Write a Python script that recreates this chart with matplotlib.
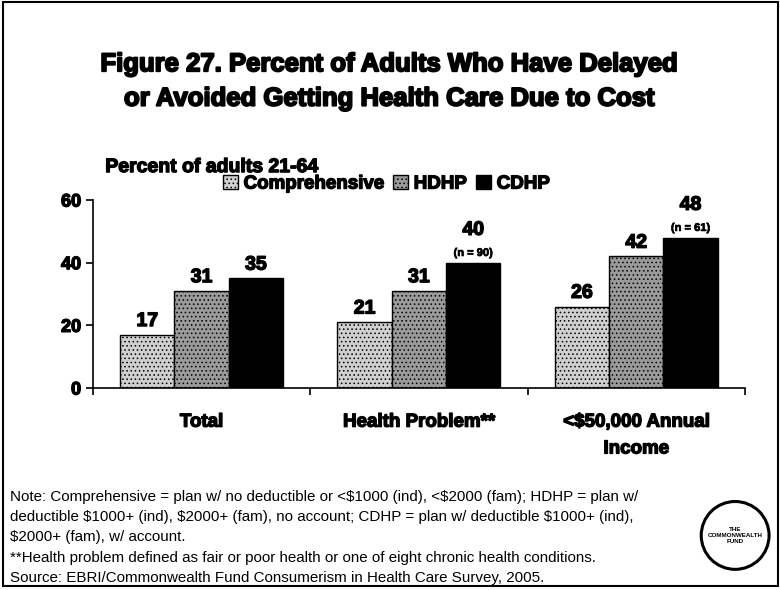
import numpy as np
import matplotlib.pyplot as plt
import matplotlib.patheffects as pe
from matplotlib.patches import Rectangle, Circle

# Data
categories = ['Total', 'Health Problem**', '<$50,000 Annual\nIncome']
series = ['Comprehensive', 'HDHP', 'CDHP']
comprehensive = [17, 21, 26]
hdhp = [31, 31, 42]
cdhp = [35, 40, 48]
cdhp_notes = ['', '(n = 90)', '(n = 61)']
yticks = [0, 20, 40, 60]

colors = ['#cfcfcf', '#9a9a9a', '#000000']
hatches = ['....', '....', None]

plt.rcParams['font.family'] = ['Liberation Sans', 'DejaVu Sans']
plt.rcParams['hatch.color'] = '#6a6a6a'
plt.rcParams['hatch.linewidth'] = 0.6

# heavy look: bold plus a thin outline
heavy = [pe.withStroke(linewidth=1.0, foreground='black')]
bold = {'weight': 'bold', 'path_effects': heavy}

fig = plt.figure(figsize=(7.8, 5.9), dpi=100)

# frame around the slide
fig.patches.append(Rectangle((0.004, 0.006), 0.994, 0.99, transform=fig.transFigure,
                             fill=False, edgecolor='black', linewidth=1.5))

fig.text(0.5, 0.862, 'Figure 27. Percent of Adults Who Have Delayed\nor Avoided Getting Health Care Due to Cost',
         ha='center', va='center', fontsize=18.5, linespacing=1.55, weight='bold',
         path_effects=[pe.withStroke(linewidth=1.4, foreground='black')])
fig.text(0.135, 0.716, 'Percent of adults 21-64', ha='left', va='center',
         fontsize=14, **bold)

ax = fig.add_axes([0.1192, 0.3424, 0.8358, 0.3186])
x = np.arange(len(categories)) + 0.5
w = 0.25
for i, (vals, col, h) in enumerate(zip([comprehensive, hdhp, cdhp], colors, hatches)):
    pos = x + (i - 1) * w
    ax.bar(pos, vals, width=w, color=col, edgecolor='black', linewidth=1.0,
           hatch=h, label=series[i])
    for j, (p, v) in enumerate(zip(pos, vals)):
        if i == 2 and cdhp_notes[j]:
            ax.text(p, v + 1.5, cdhp_notes[j], ha='center', va='bottom',
                    fontsize=8, weight='bold',
                    path_effects=[pe.withStroke(linewidth=0.5, foreground='black')])
            ax.text(p, v + 7.6, str(v), ha='center', va='bottom',
                    fontsize=14, **bold)
        else:
            ax.text(p, v + 1.5, str(v), ha='center', va='bottom',
                    fontsize=14, **bold)

ax.set_xlim(0, 3)
ax.set_ylim(0, 60)
ax.set_yticks(yticks)
ax.set_yticklabels([str(t) for t in yticks], fontsize=13, **bold)
ax.set_xticks([0, 1, 2, 3])
ax.set_xticklabels([])
ax.tick_params(axis='both', direction='out', length=5, width=1.2)
ax.spines['top'].set_visible(False)
ax.spines['right'].set_visible(False)
ax.spines['left'].set_linewidth(1.2)
ax.spines['bottom'].set_linewidth(1.2)

for xc, lab in zip(x, categories):
    ax.text(xc, -8.2, lab.replace('$', r'\$'), ha='center', va='top', fontsize=13.5,
            linespacing=1.75, **bold)

leg = ax.legend(loc='lower center', bbox_to_anchor=(0.45, 0.95), ncol=3, frameon=False,
                handlelength=0.8, handleheight=0.8, handletextpad=0.3, columnspacing=0.5,
                prop={'size': 13.5, 'weight': 'bold'})
for t in leg.get_texts():
    t.set_path_effects(heavy)

notes = [r'Note: Comprehensive = plan w/ no deductible or <\$1000 (ind), <\$2000 (fam); HDHP = plan w/',
         r'deductible \$1000+ (ind), \$2000+ (fam), no account; CDHP = plan w/ deductible \$1000+ (ind),',
         r'\$2000+ (fam), w/ account.',
         '**Health problem defined as fair or poor health or one of eight chronic health conditions.',
         'Source: EBRI/Commonwealth Fund Consumerism in Health Care Survey, 2005.']
for k, line in enumerate(notes):
    fig.text(0.013, 1 - (497 + k * 20.2) / 590, line, ha='left', va='center', fontsize=10.9)

# logo
lax = fig.add_axes([0.895, 0.03, 0.095, 0.125])
lax.set_xlim(-1, 1)
lax.set_ylim(-1, 1)
lax.set_aspect('equal')
lax.axis('off')
lax.add_patch(Circle((0, 0), 0.92, fill=False, edgecolor='black', linewidth=2.2))
lax.text(0, 0, 'THE\nCOMMONWEALTH\nFUND', ha='center', va='center', fontsize=4.5,
         fontweight='bold', linespacing=1.2)

fig.savefig('out.png', dpi=100)
